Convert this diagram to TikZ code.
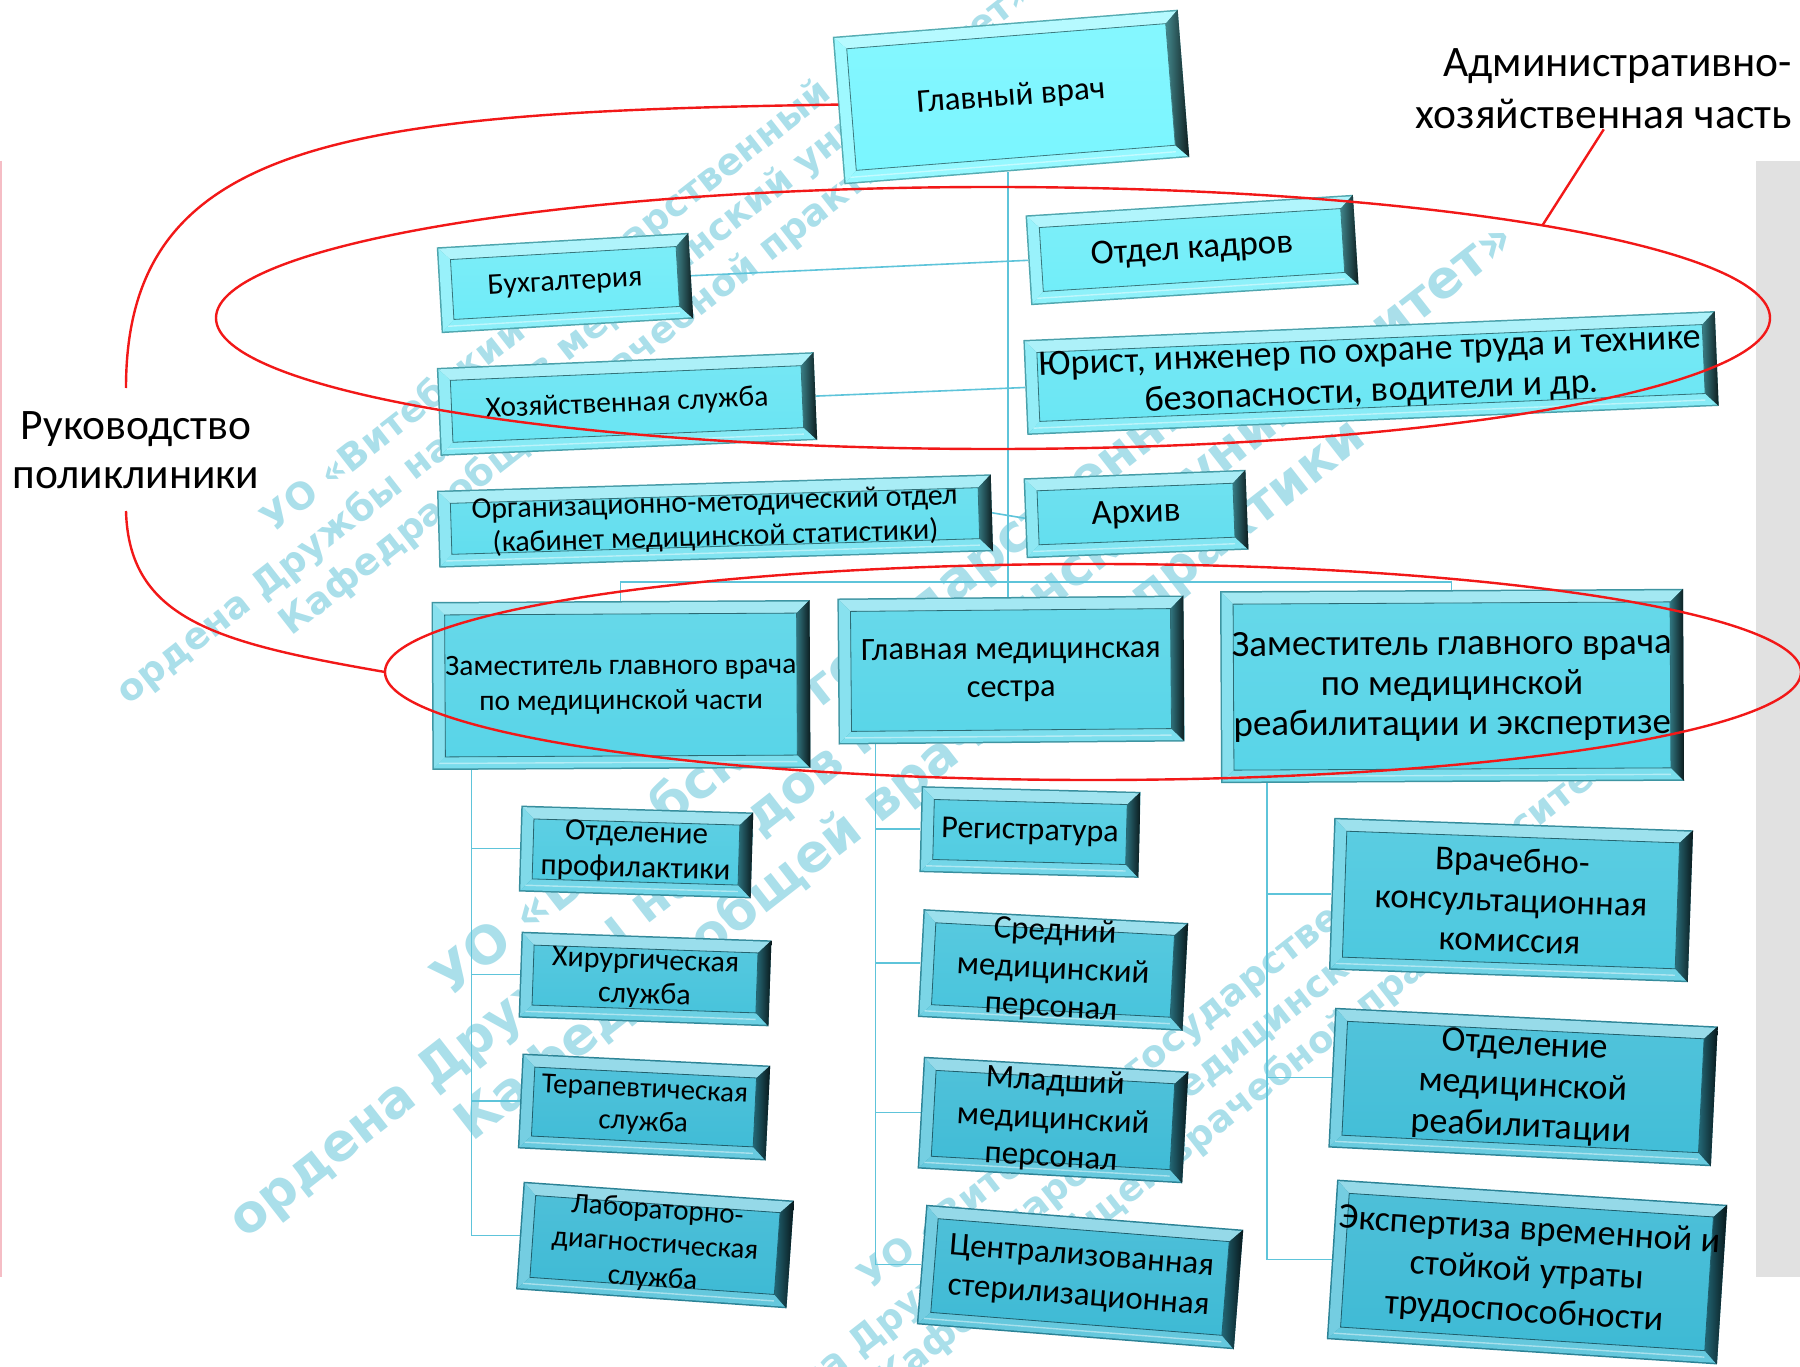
\documentclass[tikz,border=0pt]{standalone}
\usepackage{fontspec}
\setmainfont{Carlito}
\newfontfamily\wmfont{DejaVu Sans}
\usetikzlibrary{calc}
\pgfdeclarelayer{bglayer}
\pgfsetlayers{bglayer,main}
\definecolor{facetop}{HTML}{7AF6FF}
\definecolor{facebot}{HTML}{3EBAD5}
\definecolor{connc}{HTML}{5EC4DA}
\definecolor{redc}{HTML}{F21818}
\definecolor{wmc}{HTML}{AADFEA}
\definecolor{grayc}{HTML}{E1E1E1}
\definecolor{pinkc}{HTML}{F5BDC5}
\newcommand\bbox[9]{%
 \pgfmathsetmacro\bbMix{max(0,min(100,(1150-#3)/10.5))}%
 \colorlet{facec}{facetop!\bbMix!facebot}%
 \pgfmathsetmacro\bbW{#4/2}%
 \pgfmathsetmacro\bbH{#5/2}%
 \def\bbB{13}%
 \begin{scope}[shift={(#2,-#3)},rotate=#6]
  \fill[facec!70!black] (-\bbW,-\bbH) rectangle (\bbW,\bbH);
  \fill[facec!55!white] (-\bbW+1.5,\bbH-1.5) -- (\bbW-1.5,\bbH-1.5) -- (\bbW-\bbB,\bbH-\bbB) -- (-\bbW+\bbB,\bbH-\bbB) -- cycle;
  \fill[facec!72!white] (-\bbW+1.5,\bbH-1.5) -- (-\bbW+\bbB,\bbH-\bbB) -- (-\bbW+\bbB,-\bbH+\bbB) -- (-\bbW+1.5,-\bbH+1.5) -- cycle;
  \fill[facec!80!white] (-\bbW+1.5,-\bbH+1.5) -- (-\bbW+\bbB,-\bbH+\bbB) -- (\bbW-\bbB,-\bbH+\bbB) -- (\bbW-1.5,-\bbH+1.5) -- cycle;
  \shade[left color=facec!55!black, right color=facec!12!black] (\bbW,\bbH) -- (\bbW-\bbB,\bbH-\bbB) -- (\bbW-\bbB,-\bbH+\bbB) -- (\bbW,-\bbH) -- cycle;
  \shade[top color=facec!92!white, bottom color=facec] (-\bbW+\bbB,-\bbH+\bbB) rectangle (\bbW-\bbB,\bbH-\bbB);
  \draw[facec!50!black, line width=0.8pt] (-\bbW+\bbB,-\bbH+\bbB) rectangle (\bbW-\bbB,\bbH-\bbB);
  \draw[white!55!facec, line width=1.4pt] (-\bbW+\bbB/2,-\bbH+\bbB/2) -- (\bbW-\bbB,-\bbH+\bbB/2);
  \node[boxtext, transform shape, font=\fontsize{#7}{#8}\selectfont, minimum width=#4pt, minimum height=#5pt] (#1) at (0,0) {#9};
 \end{scope}}
\begin{document}
\begin{tikzpicture}[x=1pt,y=1pt,
  conn/.style={draw=connc, line width=1.6pt},
  redl/.style={draw=redc, line width=2.4pt},
  wm/.style={text=wmc, rotate=38, align=center, inner sep=0pt},
  boxtext/.style={inner sep=0pt, align=center, text=black},
  lbl/.style={inner sep=0pt, text=black}]
\useasboundingbox (0,0) rectangle (1800,-1367);

% boxes
\bbox{glav}{1011}{97}{346}{148}{4.5}{33}{40}{Главный врач}
\bbox{kadr}{1192}{250}{328}{90}{3.6}{35}{40}{Отдел кадров}
\bbox{buh}{565}{283}{252}{86}{3.3}{30}{34}{Бухгалтерия}
\bbox{hoz}{627}{404}{377}{88}{2.4}{29.5}{34}{Хозяйственная служба}
\bbox{yur}{1371}{373}{692}{95}{2.4}{36}{40}{Юрист, инженер по охране труда и технике\\безопасности, водители и др.}
\bbox{org}{715}{521}{554}{77}{1.7}{30}{34}{Организационно-методический отдел\\(кабинет медицинской статистики)}
\bbox{arch}{1136}{514}{222}{80}{2.2}{35}{40}{Архив}
\bbox{zmed}{621}{685}{378}{168}{0.3}{29.5}{35}{Заместитель главного врача\\по медицинской части}
\bbox{nurse}{1011}{670}{346}{146}{0.5}{32.5}{38}{Главная медицинская\\сестра}
\bbox{zreab}{1452}{686}{463}{192}{0.3}{37}{40}{Заместитель главного врача\\по медицинской\\реабилитации и экспертизе}
\bbox{prof}{636}{852}{232}{86}{-1.7}{31}{35}{Отделение\\профилактики}
\bbox{hir}{645}{979}{250}{86}{-2.0}{30}{34}{Хирургическая\\служба}
\bbox{ter}{644}{1107}{248}{95}{-2.8}{29}{33}{Терапевтическая\\служба}
\bbox{lab}{655}{1245}{271}{108}{-4.0}{29}{34}{Лабораторно-\\диагностическая\\служба}
\bbox{reg}{1030}{832}{219}{86}{-1.5}{32}{36}{Регистратура}
\bbox{sred}{1053}{970}{265}{108}{-3.0}{33}{38}{Средний\\медицинский\\персонал}
\bbox{mlad}{1053}{1120}{265}{112}{-3.2}{33}{38}{Младший\\медицинский\\персонал}
\bbox{cent}{1080}{1277}{318}{120}{-4.5}{33}{40}{Централизованная\\стерилизационная}
\bbox{vkk}{1511}{900}{359}{152}{-2.0}{35}{40}{Врачебно-\\консультационная\\комиссия}
\bbox{omr}{1523}{1087}{383}{140}{-2.8}{36}{41}{Отделение\\медицинской\\реабилитации}
\bbox{exp}{1527}{1272}{391}{160}{-3.7}{36}{41}{Экспертиза временной и\\стойкой утраты\\трудоспособности}

% labels
\node[lbl, anchor=east, align=right, font=\fontsize{43.5}{52}\selectfont] (adm) at (1792,-89) {Административно-\\хозяйственная часть};
\node[lbl, align=center, font=\fontsize{43.5}{49}\selectfont] (ruk) at (136,-450) {Руководство\\поликлиники};

% background layer
\begin{pgfonlayer}{bglayer}
\fill[white] (0,0) rectangle (1800,-1367);
\fill[grayc] (1756,-161) rectangle (1800,-1277);
\draw[pinkc, line width=2pt] (1,-161) -- (1,-1277);
\node[wm, font=\wmfont\bfseries\fontsize{37}{46}\selectfont] (wm1) at (575,-343) {УО «Витебский государственный\\ордена Дружбы народов медицинский университет»\\Кафедра общей врачебной практики};
\node[wm, font=\wmfont\bfseries\fontsize{52}{64}\selectfont] (wm2) at (872,-730) {УО «Витебский государственный\\ордена Дружбы народов медицинский университет»\\Кафедра общей врачебной практики};
\node[wm, font=\wmfont\bfseries\fontsize{37}{46}\selectfont] (wm3) at (1172,-1100) {УО «Витебский государственный\\ордена Дружбы народов медицинский университет»\\Кафедра общей врачебной практики};
\coordinate (trunk) at ($(glav.south west)!0.474!(glav.south east)$);
\draw[conn] (trunk) -- (trunk |- nurse.north);
\draw[conn] (buh.east) -- (kadr.west);
\draw[conn] (hoz.east) -- (yur.west);
\draw[conn] (org.east) -- (arch.west);
\coordinate (busy) at (0,-582);
\draw[conn] (zmed.north) -- (zmed.north |- busy) -- (zreab.north |- busy) -- (zreab.north);
\coordinate (s1) at ($(zmed.south west)!0.104!(zmed.south east)$);
\coordinate (s2) at ($(nurse.south west)!0.107!(nurse.south east)$);
\coordinate (s3) at ($(zreab.south west)!0.10!(zreab.south east)$);
\draw[conn] (s1) |- (prof.west) (s1) |- (hir.west) (s1) |- (ter.west) (s1) |- (lab.west);
\draw[conn] (s2) |- (reg.west) (s2) |- (sred.west) (s2) |- (mlad.west) (s2) |- (cent.west);
\draw[conn] (s3) |- (vkk.west) (s3) |- (omr.west) (s3) |- (exp.west);
\end{pgfonlayer}

% red annotations
\draw[redl] (993,-318) ellipse [x radius=777, y radius=131];
\coordinate (ep) at ($(993,-318)+(45:777 and 131)$);
\draw[redl] (ep) -- (adm.south);
\draw[redl] (1093,-672) ellipse [x radius=708, y radius=108];
\coordinate (brtop) at (126,-388);
\coordinate (brbot) at (126,-511);
\draw[redl] ([yshift=6pt]glav.west) .. controls (344,-112) and (126,-140) .. (brtop);
\draw[redl] (brbot) .. controls (129,-620) and (218,-643) .. (385,-672);
\end{tikzpicture}
\end{document}
